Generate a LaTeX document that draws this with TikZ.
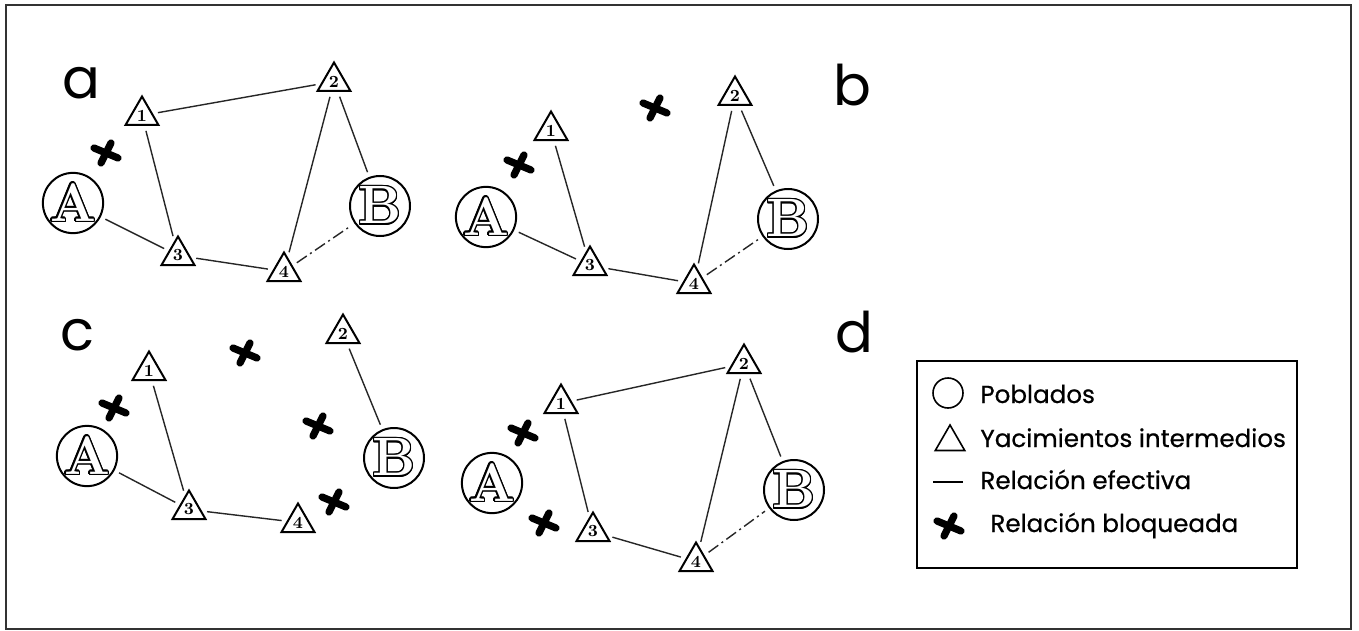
\documentclass[tikz,border=0pt]{standalone}
\usepackage{fontspec}
\setsansfont{Poppins}
\newfontfamily\legfont{Poppins}[FakeBold=0.6]
\usepackage{contour}
\contourlength{0.7pt}
\usetikzlibrary{shapes.geometric}

\newcommand\hollow[1]{{\color{white}\contour{black}{#1}}}

\tikzset{
  site/.style={circle,draw,line width=1pt,minimum size=30pt,inner sep=0pt,
    font=\bfseries\fontsize{27}{27}\selectfont},
  tri/.style={regular polygon,regular polygon sides=3,draw,line width=1pt,
    minimum size=19pt,inner sep=0pt,font=\bfseries\fontsize{8.5}{8.5}\selectfont},
  rel/.style={line width=0.7pt,black!85,shorten >=2.5pt,shorten <=2.5pt},
  weak/.style={rel,dash pattern=on 6pt off 2pt on 1pt off 2pt},
  panel/.style={anchor=base west,inner sep=0pt,font=\sffamily\fontsize{28}{28}\selectfont},
  legtext/.style={anchor=base west,inner sep=0pt,font=\legfont\fontsize{12.3}{12.3}\selectfont},
  blocked/.pic={\draw[line width=3.6pt,line cap=round] (-12,-5) -- (12,5) (-5,10) -- (5,-10);}
}

\begin{document}
\begin{tikzpicture}[x=0.5pt,y=-0.5pt]
\useasboundingbox (0,0) rectangle (1359,631);
\fill[white] (0,0) rectangle (1359,631);
\draw[line width=1pt,black!80] (6,5) rectangle (1351,629);

% ---------- panel a ----------
\node[panel] (la) at (62,98) {a};
\node[site] (aA) at (73,203) {\hollow{A}};
\node[site] (aB) at (380,206) {\hollow{B}};
\node[tri] (a1) at (142,115.5) {1};
\node[tri] (a2) at (334,81.5) {2};
\node[tri] (a3) at (178,255.5) {3};
\node[tri] (a4) at (284,271.5) {4};
\pic at (106,153) {blocked};
\draw[rel] (a1) -- (a2);
\draw[rel] (a1) -- (a3);
\draw[rel] (a2) -- (a4);
\draw[rel] (a2) -- (aB);
\draw[rel] (aA) -- (a3);
\draw[rel] (a3) -- (a4);
\draw[weak] (a4) -- (aB);

% ---------- panel b ----------
\node[panel] (lb) at (833,105) {b};
\node[site] (bA) at (486,217) {\hollow{A}};
\node[site] (bB) at (788,219) {\hollow{B}};
\node[tri] (b1) at (551,130.5) {1};
\node[tri] (b2) at (735,95.5) {2};
\node[tri] (b3) at (590,265.5) {3};
\node[tri] (b4) at (694,283.5) {4};
\pic at (655,108) {blocked};
\pic at (519,165) {blocked};
\draw[rel] (b1) -- (b3);
\draw[rel] (bA) -- (b3);
\draw[rel] (b3) -- (b4);
\draw[rel] (b2) -- (b4);
\draw[rel] (b2) -- (bB);
\draw[weak] (b4) -- (bB);

% ---------- panel c ----------
\node[panel] (lc) at (60,350) {c};
\node[site] (cA) at (87,456) {\hollow{A}};
\node[site] (cB) at (394,458) {\hollow{B}};
\node[tri] (c1) at (149,370.5) {1};
\node[tri] (c2) at (343,333.5) {2};
\node[tri] (c3) at (189,509.5) {3};
\node[tri] (c4) at (298,522.5) {4};
\pic at (245,353) {blocked};
\pic at (114,408) {blocked};
\pic at (318,426) {blocked};
\pic at (334,502) {blocked};
\draw[rel] (c1) -- (c3);
\draw[rel] (cA) -- (c3);
\draw[rel] (c3) -- (c4);
\draw[rel] (c2) -- (cB);

% ---------- panel d ----------
\node[panel] (ld) at (835,352) {d};
\node[site] (dA) at (492,483) {\hollow{A}};
\node[site] (dB) at (794,490) {\hollow{B}};
\node[tri] (d1) at (561,403.5) {1};
\node[tri] (d2) at (744,363.5) {2};
\node[tri] (d3) at (593,531.5) {3};
\node[tri] (d4) at (696,561.5) {4};
\pic at (523,433) {blocked};
\pic at (544,523) {blocked};
\draw[rel] (d1) -- (d2);
\draw[rel] (d1) -- (d3);
\draw[rel] (d2) -- (d4);
\draw[rel] (d2) -- (dB);
\draw[rel] (d3) -- (d4);
\draw[weak] (d4) -- (dB);

% ---------- legend ----------
\node[draw,line width=1pt,minimum width=190pt,minimum height=103.5pt,inner sep=0pt] (leg) at (1107,464.5) {};
\node[circle,draw,line width=0.8pt,minimum size=15pt,inner sep=0pt] (kc) at (948,393) {};
\node[legtext] (t1) at (980,403) {Poblados};
\node[regular polygon,regular polygon sides=3,draw,line width=0.8pt,minimum size=17pt,inner sep=0pt] (kt) at (950,442) {};
\node[legtext] (t2) at (980,447) {Yacimientos intermedios};
\coordinate (kl1) at (933,482);
\coordinate (kl2) at (963,482);
\draw[line width=0.7pt] (kl1) -- (kl2);
\node[legtext] (t3) at (980,489) {Relación efectiva};
\pic at (949,526) {blocked};
\node[legtext] (t4) at (990,532) {Relación bloqueada};
\end{tikzpicture}
\end{document}
